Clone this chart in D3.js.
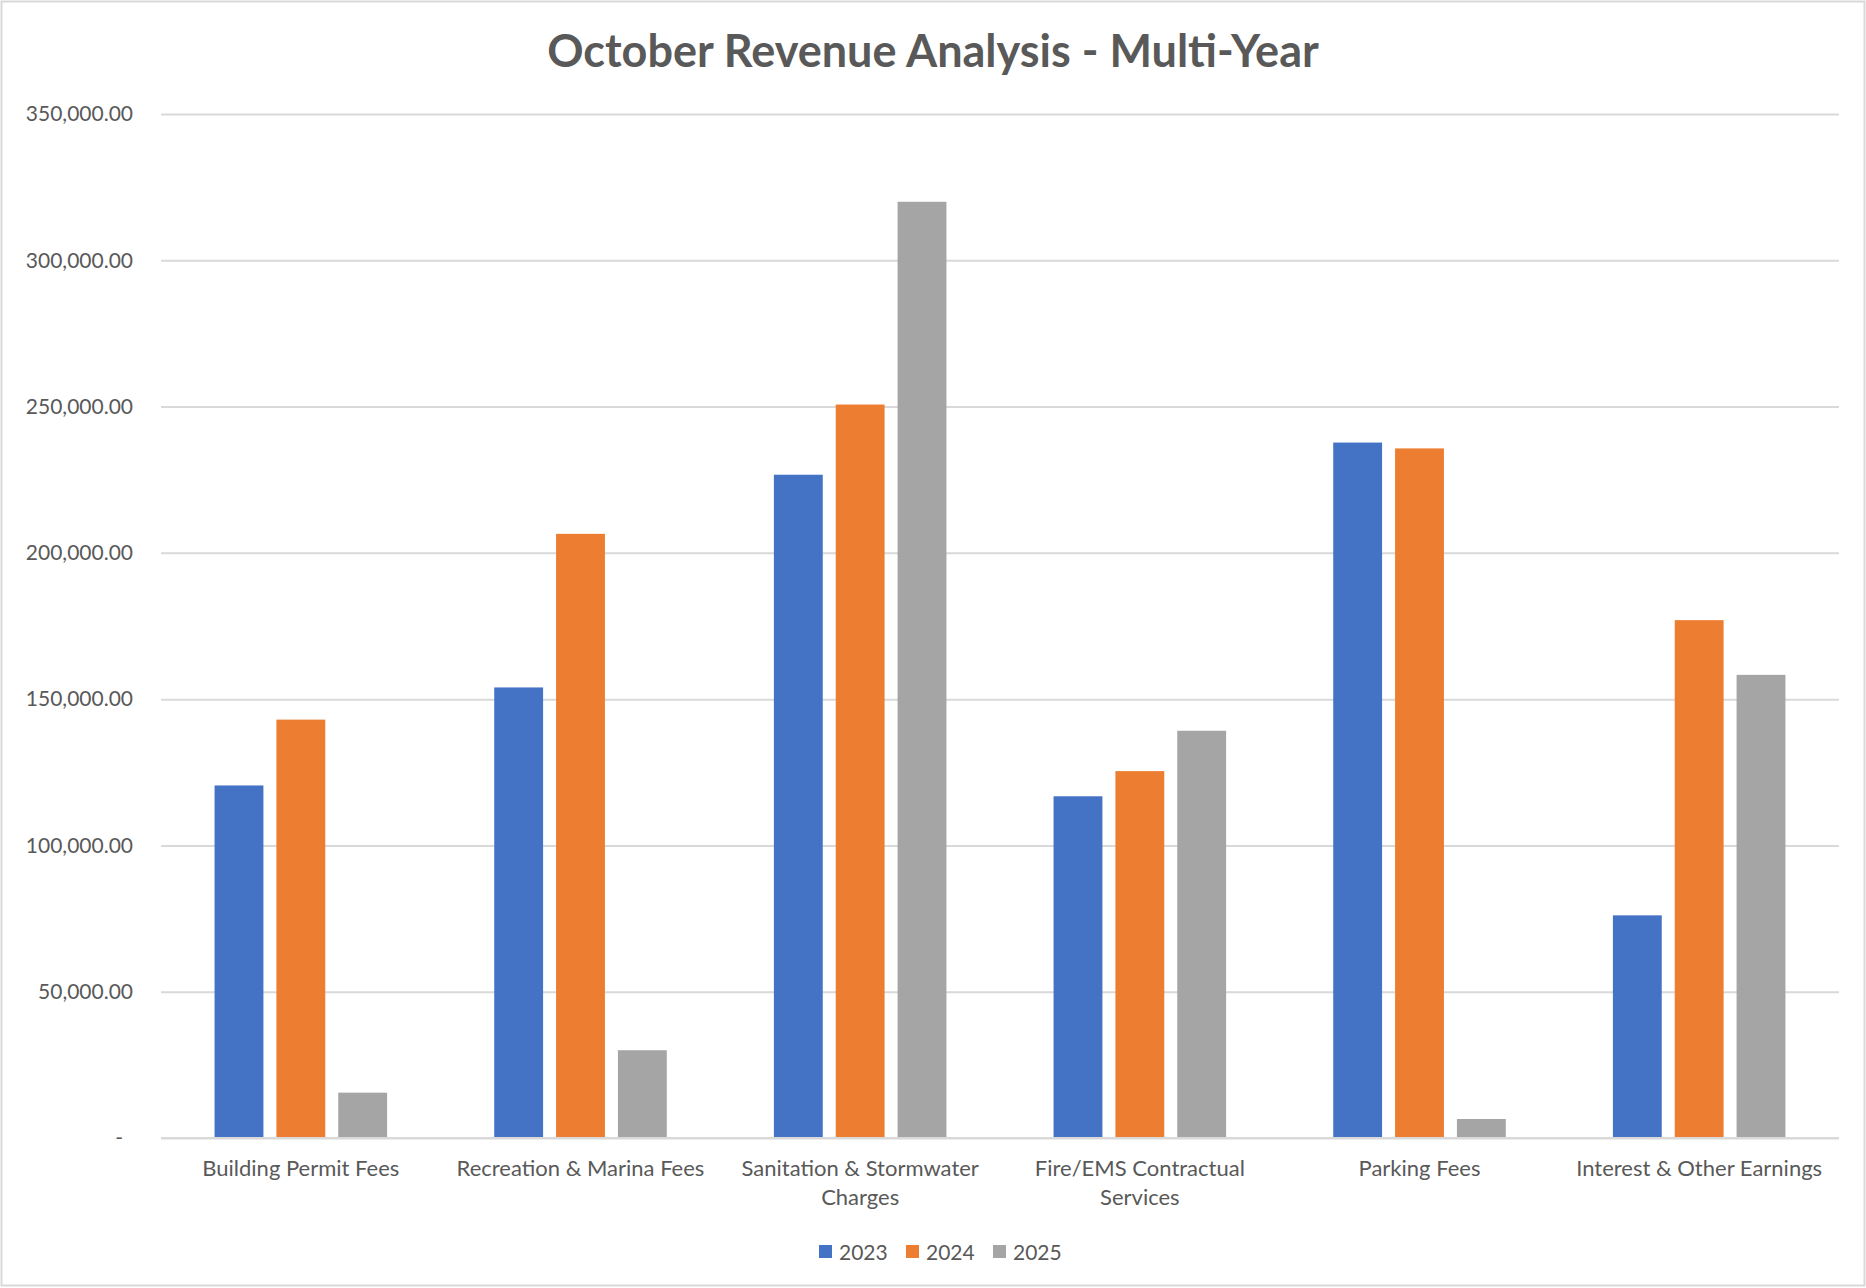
<!DOCTYPE html>
<html>
<head>
<meta charset="utf-8">
<script src="https://cdn.jsdelivr.net/npm/d3@7"></script>
<style>
  body { margin: 0; background: #fff; }
  #chart { width: 1866px; height: 1288px; }
  text { font-family: Lato, "Open Sans", sans-serif; fill: #595959; }
</style>
</head>
<body>
<div id="chart"></div>
<script>
  var width = 1866;
  var height = 1288;

  var margin = {
    top: 114,
    right: 27,
    bottom: 150,
    left: 161
  };

  // data
  var categories = ["Building Permit Fees", "Recreation & Marina Fees", "Sanitation & Stormwater Charges",
                    "Fire/EMS Contractual Services", "Parking Fees", "Interest & Other Earnings"];
  var categoryLines = [["Building Permit Fees"], ["Recreation & Marina Fees"], ["Sanitation & Stormwater", "Charges"],
                       ["Fire/EMS Contractual", "Services"], ["Parking Fees"], ["Interest & Other Earnings"]];
  var years = ["2023", "2024", "2025"];
  var values2023 = [120500, 154000, 226700, 116800, 237700, 76100];
  var values2024 = [143000, 206500, 250700, 125400, 235700, 177000];
  var values2025 = [15500, 30000, 320000, 139200, 6500, 158300];
  var yTicks = [0, 50000, 100000, 150000, 200000, 250000, 300000, 350000];
  var colors = ["#4472C4", "#ED7D31", "#A5A5A5"];

  var series = [values2023, values2024, values2025];
  var data = categories.map(function(c, i) {
    return { category: c, values: years.map(function(y, j) { return { year: y, value: series[j][i] }; }) };
  });

  var svg = d3.select("#chart")
    .append("svg")
    .attr("width", width)
    .attr("height", height);

  // chart border
  svg.append("rect")
    .attr("x", 1.5).attr("y", 1.5)
    .attr("width", width - 3).attr("height", height - 4)
    .attr("fill", "#fff")
    .attr("stroke", "#d9d9d9")
    .attr("stroke-width", 2);

  var x0 = d3.scaleBand()
    .domain(categories)
    .range([margin.left, width - margin.right])
    .paddingInner(0.383)
    .paddingOuter(0.1915);

  var x1 = d3.scaleBand()
    .domain(years)
    .range([0, x0.bandwidth()])
    .paddingInner(0.21);

  var yScale = d3.scaleLinear()
    .domain([0, 350000])
    .range([height - margin.bottom, margin.top]);

  var fmt = d3.format(",.2f");

  // gridlines + y labels
  var yAxis = svg.append("g")
    .attr("transform", `translate(${margin.left},0)`)
    .call(d3.axisLeft(yScale)
      .tickValues(yTicks)
      .tickSize(-(width - margin.left - margin.right))
      .tickPadding(28)
      .tickFormat(function(d) { return d === 0 ? "-" : fmt(d); }));
  yAxis.select(".domain").remove();
  yAxis.selectAll(".tick line").attr("stroke", "#d9d9d9").attr("stroke-width", 2);
  yAxis.selectAll(".tick text")
    .style("font-size", "21px")
    .attr("fill", "#595959")
    .attr("dx", function(d) { return d === 0 ? -10 : 0; });

  // bars
  var groups = svg.selectAll(".group")
    .data(data)
    .enter()
    .append("g")
      .attr("class", "group")
      .attr("transform", function(d) { return `translate(${x0(d.category)},0)`; });

  groups.selectAll("rect")
    .data(function(d) { return d.values; })
    .enter()
    .append("rect")
      .attr("x", function(d) { return x1(d.year); })
      .attr("y", function(d) { return yScale(d.value); })
      .attr("width", x1.bandwidth())
      .attr("height", function(d) { return yScale(0) - yScale(d.value); })
      .attr("fill", function(d, i) { return colors[i]; });

  // x axis line
  svg.append("line")
    .attr("x1", margin.left).attr("x2", width - margin.right)
    .attr("y1", yScale(0)).attr("y2", yScale(0))
    .attr("stroke", "#d9d9d9").attr("stroke-width", 2);

  // x labels
  var xLabels = svg.selectAll(".xlabel")
    .data(categories)
    .enter()
    .append("text")
      .attr("class", "xlabel")
      .attr("x", function(d) { return x0(d) + x0.bandwidth() / 2; })
      .attr("y", yScale(0) + 38)
      .attr("text-anchor", "middle")
      .style("font-size", "22px");

  xLabels.selectAll("tspan")
    .data(function(d, i) { return categoryLines[i]; })
    .enter()
    .append("tspan")
      .attr("x", function() { return d3.select(this.parentNode).attr("x"); })
      .attr("dy", function(d, i) { return i === 0 ? 0 : 29; })
      .text(function(d) { return d; });

  // title
  svg.append("text")
    .attr("x", width / 2)
    .attr("y", 67)
    .attr("text-anchor", "middle")
    .style("font-size", "45px")
    .style("font-weight", "bold")
    .text("October Revenue Analysis - Multi-Year");

  // legend
  var legend = svg.append("g")
    .attr("transform", "translate(819,1252)");

  var legendItem = legend.selectAll(".item")
    .data(years)
    .enter()
    .append("g")
      .attr("class", "item")
      .attr("transform", function(d, i) { return `translate(${i * 87},0)`; });

  legendItem.append("rect")
    .attr("x", 0).attr("y", -7)
    .attr("width", 13).attr("height", 13)
    .attr("fill", function(d, i) { return colors[i]; });

  legendItem.append("text")
    .attr("x", 20)
    .attr("y", 8)
    .style("font-size", "21px")
    .text(function(d) { return d; });
</script>
</body>
</html>
